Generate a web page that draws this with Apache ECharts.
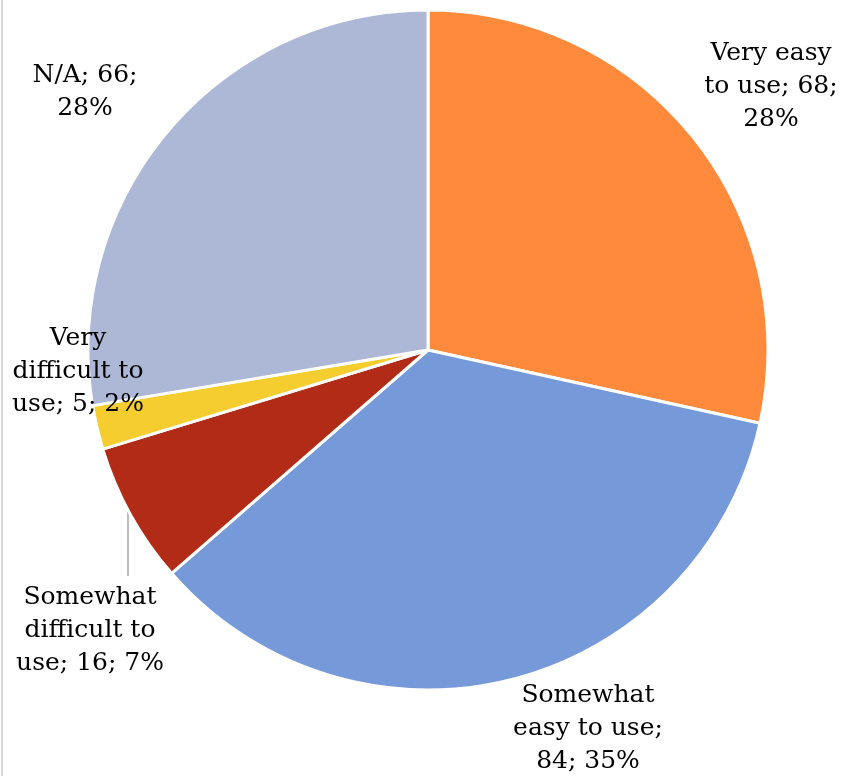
<!DOCTYPE html>
<html>
<head>
<meta charset="utf-8">
<script src="https://cdn.jsdelivr.net/npm/echarts@6/dist/echarts.min.js"></script>
<style>
  html, body { margin: 0; padding: 0; background: #fff; }
  #chart { width: 844px; height: 776px; }
</style>
</head>
<body>
<div id="chart"></div>
<script>
  // data
  var categories = ['Very easy to use', 'Somewhat easy to use', 'Somewhat difficult to use', 'Very difficult to use', 'N/A'];
  var counts = [68, 84, 16, 5, 66];
  var percents = ['28%', '35%', '7%', '2%', '28%'];
  var labelTexts = [
    'Very easy\nto use; 68;\n28%',
    'Somewhat\neasy to use;\n84; 35%',
    'Somewhat\ndifficult to\nuse; 16; 7%',
    'Very\ndifficult to\nuse; 5; 2%',
    'N/A; 66;\n28%'
  ];
  var colors = ['#FF8A3B', '#7599D9', '#B22B16', '#F5CD2E', '#ADB8D7'];
  // label centres in px
  var labelPos = [[771, 86], [588, 728], [90, 630], [78, 371], [85, 92]];

  var chart = echarts.init(document.getElementById('chart'));

  var pieData = categories.map(function (name, i) {
    return {
      name: name,
      value: counts[i],
      itemStyle: { color: colors[i] },
      labelLine: { show: i === 2 }
    };
  });

  chart.setOption({
    backgroundColor: '#fff',
    animation: false,
    graphic: [
      { type: 'rect', shape: { x: 1, y: 0, width: 2, height: 776 }, style: { fill: '#d9d9d9' } }
    ],
    series: [{
      type: 'pie',
      center: [428, 350],
      radius: 340,
      startAngle: 90,
      clockwise: true,
      itemStyle: { borderColor: '#fff', borderWidth: 3 },
      label: {
        show: true,
        position: 'outside',
        color: '#000',
        fontFamily: 'DejaVu Serif',
        fontSize: 25,
        lineHeight: 33,
        align: 'center',
        overflow: 'none',
        width: 300,
        formatter: function (p) { return labelTexts[p.dataIndex]; }
      },
      labelLine: {
        lineStyle: { color: '#a6a6a6', width: 1.5 }
      },
      labelLayout: function (p) {
        var pos = labelPos[p.dataIndex];
        var out = { x: pos[0], y: pos[1], align: 'center', verticalAlign: 'middle' };
        if (p.dataIndex === 2) {
          out.labelLinePoints = [[128, 511], [128, 545], [128, 576]];
        }
        return out;
      },
      emphasis: { disabled: true },
      data: pieData
    }]
  });
</script>
</body>
</html>
